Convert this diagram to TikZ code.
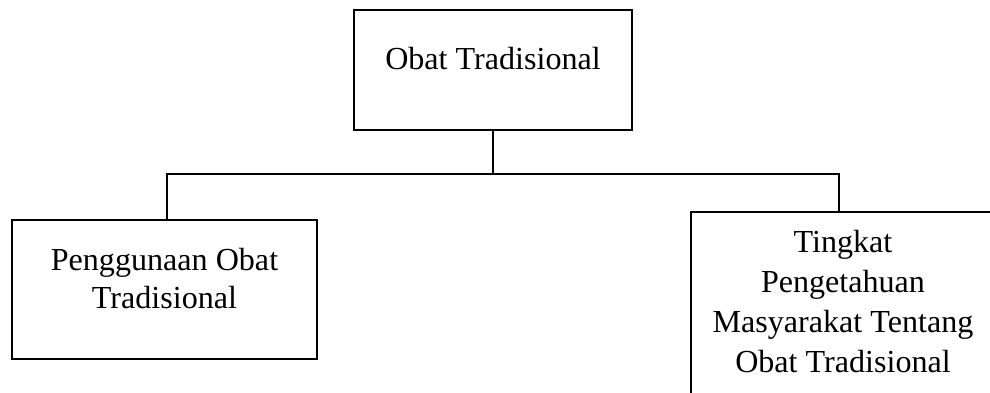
\documentclass[tikz,border=0pt]{standalone}
\usepackage{fontspec}
\setmainfont{Liberation Serif}
\begin{document}
\begin{tikzpicture}[x=1pt,y=-1pt,
  box/.style={draw,line width=2pt,rectangle,inner sep=0pt,outer sep=0pt},
  label/.style={anchor=base,inner sep=0pt,font=\fontsize{32.1}{38}\selectfont},
  link/.style={line width=2pt}]
\useasboundingbox (0,0) rectangle (990,393);
\clip (0,0) rectangle (990,393);
% boxes
\node[box,minimum width=278pt,minimum height=120pt] (top) at (493,70) {};
\node[box,minimum width=305pt,minimum height=139pt] (left) at (164.5,289.5) {};
\node[box,minimum width=304pt,minimum height=230pt] (right) at (843,327) {};
% texts
\node[label] (ttop) at (493,70) {Obat Tradisional};
\node[label] (tleft) at (164.5,270) {\begin{tabular}[t]{@{}c@{}}Penggunaan Obat\\Tradisional\end{tabular}};
\node[label,font=\fontsize{32.1}{40}\selectfont] (tright) at (843,252) {\begin{tabular}[t]{@{}c@{}}Tingkat\\Pengetahuan\\Masyarakat Tentang\\Obat Tradisional\end{tabular}};
% connectors
\coordinate (bus) at (493,174);
\coordinate (ldrop) at (167,174);
\coordinate (rdrop) at (839,174);
\draw[link] (top.south) -- (bus);
\draw[link] (left.north -| ldrop) -- (ldrop) -- (rdrop) -- (right.north -| rdrop);
\end{tikzpicture}
\end{document}
